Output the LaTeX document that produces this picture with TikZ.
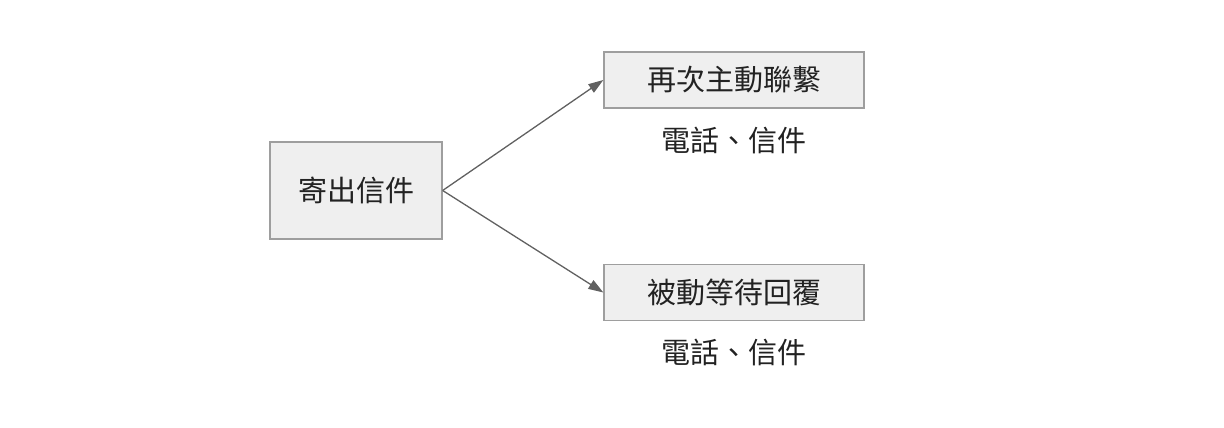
\documentclass[tikz,border=0pt]{standalone}
\usepackage{fontspec}
\newfontfamily\cjk{Noto Sans CJK TC}
\usetikzlibrary{arrows.meta}
\definecolor{fond}{HTML}{EFEFEF}
\definecolor{bord}{HTML}{9E9E9E}
\definecolor{fleche}{HTML}{616161}
\definecolor{texte}{HTML}{222222}
\begin{document}
\begin{tikzpicture}[x=1pt, y=1pt]
\tikzset{boite/.style={draw=bord, fill=fond, line width=1.3pt, text=texte, inner sep=0pt, font=\cjk\fontsize{29}{33}\selectfont},
  legende/.style={text=texte, inner sep=0pt, font=\cjk\fontsize{29}{33}\selectfont},
  lien/.style={draw=fleche, line width=1.3pt, -{Triangle[length=15pt, width=10pt]}}}
\useasboundingbox (0, 0) rectangle (1224, 428);
\node[boite, minimum width=172pt, minimum height=97pt] (E) at (356, 237.5) {寄出信件};
\node[boite, minimum width=260pt, minimum height=56pt] (R1) at (734, 348) {再次主動聯繫};
\node[boite, minimum width=260pt, minimum height=56pt] (R2) at (734, 135.5) {被動等待回覆};
\node[legende] (L1) at (734, 288) {電話、信件};
\node[legende] (L2) at (734, 76) {電話、信件};
\draw[lien] (E.east) -- (R1.west);
\draw[lien] (E.east) -- (R2.west);
\end{tikzpicture}
\end{document}
